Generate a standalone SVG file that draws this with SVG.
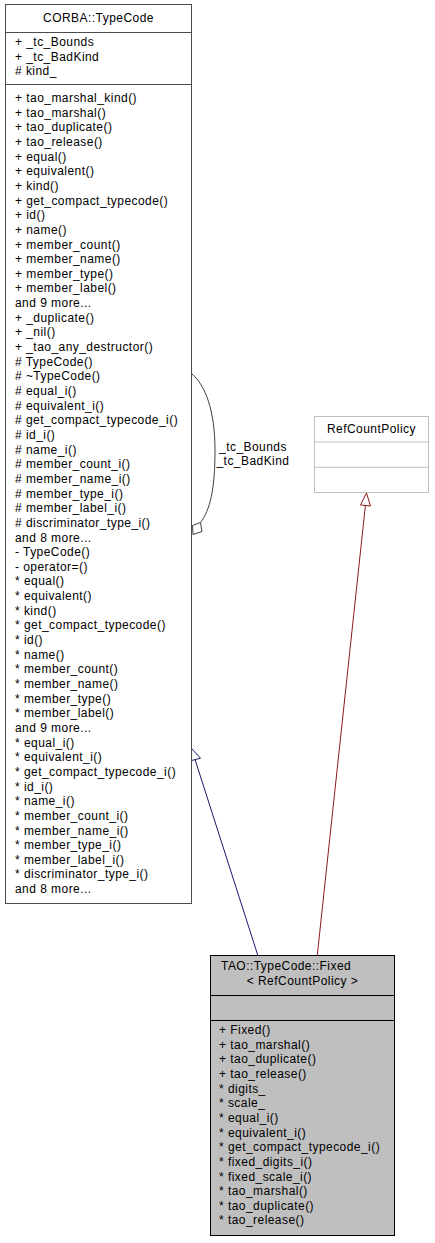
<svg xmlns="http://www.w3.org/2000/svg" width="435" height="1243" viewBox="0 0 435 1243">
<style>
text{font-family:"Liberation Sans",Arial,Helvetica,sans-serif;font-size:12px;letter-spacing:0.45px;fill:#000}
.c{text-anchor:middle}
.box{fill:#fff;stroke:#4d4d4d;stroke-width:1}
.sep{stroke:#4d4d4d;stroke-width:1}
.gbox{fill:#fff;stroke:#bfbfbf;stroke-width:1}
.gsep{stroke:#bfbfbf;stroke-width:1}
.fbox{fill:#bfbfbf;stroke:#000;stroke-width:1}
.fsep{stroke:#000;stroke-width:1}
</style>
<rect width="435" height="1243" fill="#fff"/>
<g id="connectors">
  <path d="M257.7,955 L195.2,760" fill="none" stroke="#191970" stroke-width="1"/>
  <polygon points="191.5,748.5 190.5,760.8 200.5,758.2" fill="#fff" stroke="#191970" stroke-width="1"/>
  <path d="M317.3,955 L365.4,505.5" fill="none" stroke="#8b1a1a" stroke-width="1"/>
  <polygon points="366.5,493 360.5,505 370.5,506" fill="#fff" stroke="#8b1a1a" stroke-width="1"/>
  <path d="M192,374 C205,385 215,410 215,450 C215,490 210,510 200.5,522.5" fill="none" stroke="#404040" stroke-width="1"/>
  <polygon points="200.5,522.5 202,531.5 193,534.5 192.5,525.5" fill="#fff" stroke="#404040" stroke-width="1"/>
  <text class="c" x="253" y="450.5">_tc_Bounds</text>
  <text class="c" x="253" y="465">_tc_BadKind</text>
</g>
<g id="node_corba_typecode">
  <rect class="box" x="5.5" y="4.5" width="186" height="899"/>
  <line class="sep" x1="5.5" y1="32.5" x2="191.5" y2="32.5"/>
  <line class="sep" x1="5.5" y1="84.5" x2="191.5" y2="84.5"/>
  <text class="c" x="98.5" y="21.5">CORBA::TypeCode</text>
  <text x="15" y="46">+ _tc_Bounds</text>
  <text x="15" y="60.6">+ _tc_BadKind</text>
  <text x="15" y="75.2"># kind_</text>
  <text x="15" y="102">+ tao_marshal_kind()</text>
  <text x="15" y="116.65">+ tao_marshal()</text>
  <text x="15" y="131.3">+ tao_duplicate()</text>
  <text x="15" y="145.95">+ tao_release()</text>
  <text x="15" y="160.6">+ equal()</text>
  <text x="15" y="175.25">+ equivalent()</text>
  <text x="15" y="189.9">+ kind()</text>
  <text x="15" y="204.55">+ get_compact_typecode()</text>
  <text x="15" y="219.2">+ id()</text>
  <text x="15" y="233.85">+ name()</text>
  <text x="15" y="248.5">+ member_count()</text>
  <text x="15" y="263.15">+ member_name()</text>
  <text x="15" y="277.8">+ member_type()</text>
  <text x="15" y="292.45">+ member_label()</text>
  <text x="15" y="307.1">and 9 more...</text>
  <text x="15" y="321.75">+ _duplicate()</text>
  <text x="15" y="336.4">+ _nil()</text>
  <text x="15" y="351.05">+ _tao_any_destructor()</text>
  <text x="15" y="365.7"># TypeCode()</text>
  <text x="15" y="380.35"># ~TypeCode()</text>
  <text x="15" y="395"># equal_i()</text>
  <text x="15" y="409.65"># equivalent_i()</text>
  <text x="15" y="424.3"># get_compact_typecode_i()</text>
  <text x="15" y="438.95"># id_i()</text>
  <text x="15" y="453.6"># name_i()</text>
  <text x="15" y="468.25"># member_count_i()</text>
  <text x="15" y="482.9"># member_name_i()</text>
  <text x="15" y="497.55"># member_type_i()</text>
  <text x="15" y="512.2"># member_label_i()</text>
  <text x="15" y="526.85"># discriminator_type_i()</text>
  <text x="15" y="541.5">and 8 more...</text>
  <text x="15" y="556.15">- TypeCode()</text>
  <text x="15" y="570.8">- operator=()</text>
  <text x="15" y="585.45">* equal()</text>
  <text x="15" y="600.1">* equivalent()</text>
  <text x="15" y="614.75">* kind()</text>
  <text x="15" y="629.4">* get_compact_typecode()</text>
  <text x="15" y="644.05">* id()</text>
  <text x="15" y="658.7">* name()</text>
  <text x="15" y="673.35">* member_count()</text>
  <text x="15" y="688">* member_name()</text>
  <text x="15" y="702.65">* member_type()</text>
  <text x="15" y="717.3">* member_label()</text>
  <text x="15" y="731.95">and 9 more...</text>
  <text x="15" y="746.6">* equal_i()</text>
  <text x="15" y="761.25">* equivalent_i()</text>
  <text x="15" y="775.9">* get_compact_typecode_i()</text>
  <text x="15" y="790.55">* id_i()</text>
  <text x="15" y="805.2">* name_i()</text>
  <text x="15" y="819.85">* member_count_i()</text>
  <text x="15" y="834.5">* member_name_i()</text>
  <text x="15" y="849.15">* member_type_i()</text>
  <text x="15" y="863.8">* member_label_i()</text>
  <text x="15" y="878.45">* discriminator_type_i()</text>
  <text x="15" y="893.1">and 8 more...</text>
</g>
<g id="node_refcountpolicy">
  <rect class="gbox" x="314.5" y="416.5" width="114" height="76"/>
  <line class="gsep" x1="314.5" y1="442" x2="428.5" y2="442"/>
  <line class="gsep" x1="314.5" y1="467.3" x2="428.5" y2="467.3"/>
  <text class="c" x="371.5" y="433">RefCountPolicy</text>
</g>
<g id="node_fixed">
  <rect class="fbox" x="210.5" y="955.5" width="184" height="280"/>
  <line class="fsep" x1="210.5" y1="995.5" x2="394.5" y2="995.5"/>
  <line class="fsep" x1="210.5" y1="1020.5" x2="394.5" y2="1020.5"/>
  <text x="221" y="970">TAO::TypeCode::Fixed</text>
  <text class="c" x="302.5" y="985">&lt; RefCountPolicy &gt;</text>
  <text x="219" y="1034">+ Fixed()</text>
  <text x="219" y="1048.65">+ tao_marshal()</text>
  <text x="219" y="1063.3">+ tao_duplicate()</text>
  <text x="219" y="1077.95">+ tao_release()</text>
  <text x="219" y="1092.6">* digits_</text>
  <text x="219" y="1107.25">* scale_</text>
  <text x="219" y="1121.9">* equal_i()</text>
  <text x="219" y="1136.55">* equivalent_i()</text>
  <text x="219" y="1151.2">* get_compact_typecode_i()</text>
  <text x="219" y="1165.85">* fixed_digits_i()</text>
  <text x="219" y="1180.5">* fixed_scale_i()</text>
  <text x="219" y="1195.15">* tao_marshal()</text>
  <text x="219" y="1209.8">* tao_duplicate()</text>
  <text x="219" y="1224.45">* tao_release()</text>
</g>
</svg>
